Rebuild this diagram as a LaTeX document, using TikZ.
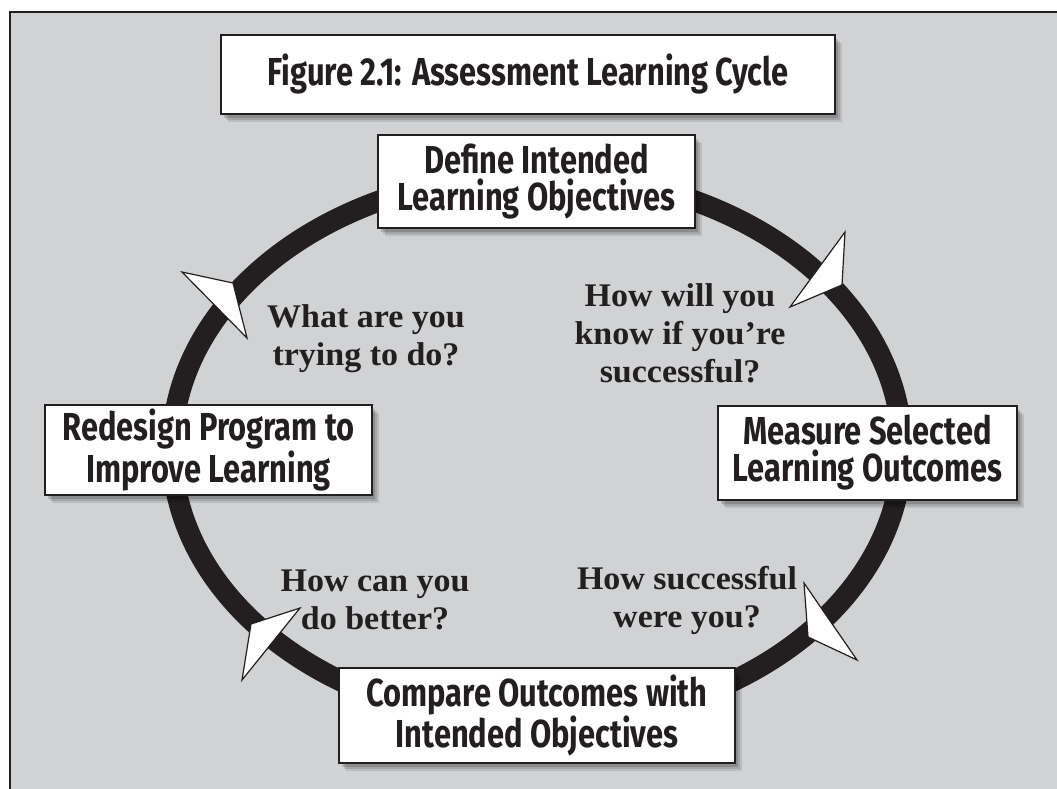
\documentclass[tikz,border=0pt]{standalone}
\usepackage{fontspec}
\usepackage{tikz}
\usetikzlibrary{shadows}
\newfontfamily\boxfont[FakeStretch=0.79]{Fira Sans}
\newfontfamily\askfont[FakeStretch=1.03]{Liberation Serif}
\definecolor{panel}{RGB}{209,210,212}
\definecolor{ink}{RGB}{35,31,32}

\begin{document}
\begin{tikzpicture}[x=1pt,y=-1pt,
  step_box/.style={rectangle,draw=ink,line width=1.8pt,fill=white,inner sep=0pt,align=center,text=ink,
    font=\boxfont\bfseries\fontsize{39}{37}\selectfont,
    drop shadow={shadow xshift=7pt,shadow yshift=-8pt,fill=black,opacity=0.1},
    drop shadow={shadow xshift=5pt,shadow yshift=-6pt,fill=black,opacity=0.12},
    drop shadow={shadow xshift=3pt,shadow yshift=-4pt,fill=black,opacity=0.15}},
  ask_node/.style={align=center,text=ink,inner sep=0pt,font=\askfont\bfseries\fontsize{33}{38}\selectfont},
  dart/.style={draw=ink,fill=white,line width=1.2pt,line join=miter}]

  \useasboundingbox (0,0) rectangle (1057,788);
  \clip (0,0) rectangle (1057,788);
  \draw[ink,line width=1.5pt,fill=panel] (10,12) rectangle (1100,830);

  % the cycle
  \coordinate (hub) at (537,449);
  \draw[ink,line width=21pt] (hub) ellipse [x radius=365,y radius=275];

  \filldraw[dart] (182,272) -- (233,283) -- (247,338) -- cycle;
  \filldraw[dart] (845,232) -- (842,285) -- (790,307) -- cycle;
  \filldraw[dart] (804,583) -- (808,637) -- (857,660) -- cycle;
  \filldraw[dart] (300,608) -- (251,624) -- (242,680) -- cycle;

  % boxes
  \node[step_box,minimum width=614pt,minimum height=79pt] (title)    at (528,74.5) {Figure 2.1: Assessment Learning Cycle};
  \node[step_box,minimum width=317pt,minimum height=93pt] (define)   at (536.5,181.5) {Define Intended\\Learning Objectives};
  \node[step_box,minimum width=299pt,minimum height=94pt] (measure)  at (867.5,453) {Measure Selected\\Learning Outcomes};
  \node[step_box,minimum width=396pt,minimum height=95pt] (compare)  at (537,715.5) {Compare Outcomes with\\Intended Objectives};
  \node[step_box,minimum width=327pt,minimum height=90pt] (redesign) at (208.5,450) {Redesign Program to\\Improve Learning};

  % questions
  \node[ask_node] (q1) at (366,339) {What are you\\trying to do?};
  \node[ask_node] (q2) at (680,333) {How will you\\know if you’re\\successful?};
  \node[ask_node] (q3) at (375,600) {How can you\\do better?};
  \node[ask_node] (q4) at (687,600) {How successful\\were you?};

\end{tikzpicture}
\end{document}
